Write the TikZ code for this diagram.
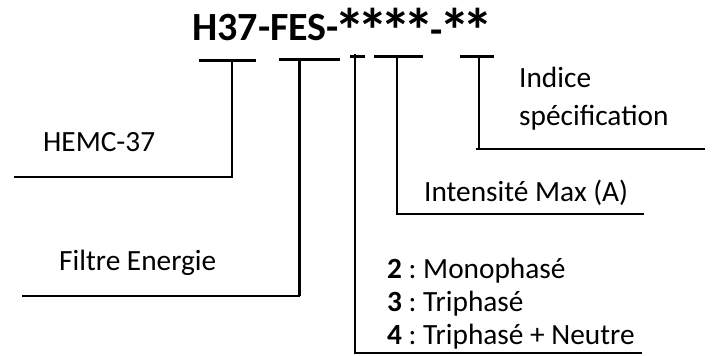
\documentclass[tikz,border=0pt]{standalone}
\usepackage{fontspec}
\setmainfont{Carlito}
\newcommand{\bigast}{\makebox[23pt]{\raisebox{-13pt}{\scalebox{1.55}{*}}}}
\begin{document}
\frenchspacing
\begin{tikzpicture}[x=1pt,y=-1pt,
  lbl/.style={anchor=base west,inner sep=0pt,font=\fontsize{29.33}{33}\selectfont},
  ttl/.style={anchor=base west,inner sep=0pt,font=\fontsize{40}{44}\selectfont\bfseries},
  bar/.style={line width=3pt},
  lead/.style={line width=2pt}]
\useasboundingbox (0,0) rectangle (713,356);
\node[ttl] (title) at (192,40) {H37-FES-\bigast\bigast\bigast\bigast\raisebox{-3pt}{-}\bigast\bigast};
\node[lbl] (indice) at (519,87) {Indice};
\node[lbl] (spec) at (519,125) {spécification};
\node[lbl] (hemc) at (43,151) {HEMC-37};
\node[lbl] (imax) at (424,201) {Intensité Max (A)};
\node[lbl] (filtre) at (59,270) {Filtre Energie};
\node[lbl] (mono) at (387,278) {\textbf{2} : Monophasé};
\node[lbl] (tri) at (387,311) {\textbf{3} : Triphasé};
\node[lbl] (neutre) at (387,344) {\textbf{4} : Triphasé + Neutre};
% HEMC-37
\coordinate (a1) at (199,60); \coordinate (a2) at (256,60);
\coordinate (a3) at (232,61); \coordinate (a4) at (232,177); \coordinate (a5) at (14,177);
\draw[bar] (a1) -- (a2);
\draw[lead] (a3) -- (a4) -- (a5);
% Filtre Energie
\coordinate (b1) at (279,59); \coordinate (b2) at (340,59);
\coordinate (b3) at (299.5,59); \coordinate (b4) at (299.5,296); \coordinate (b5) at (22,296);
\draw[bar] (b1) -- (b2);
\draw[line width=2.5pt] (b3) -- (b4);
\draw[lead] (b4) -- (b5);
% Phases
\coordinate (c1) at (350,56); \coordinate (c2) at (365,56);
\coordinate (c3) at (354.5,54); \coordinate (c4) at (354.5,353); \coordinate (c5) at (642,353);
\draw[bar] (c1) -- (c2);
\draw[lead] (c3) -- (c4) -- (c5);
% Intensite
\coordinate (d1) at (374,56); \coordinate (d2) at (423,56);
\coordinate (d3) at (397,55); \coordinate (d4) at (397,214); \coordinate (d5) at (644,214);
\draw[bar] (d1) -- (d2);
\draw[lead] (d3) -- (d4) -- (d5);
% Indice
\coordinate (e1) at (460,56); \coordinate (e2) at (494,56);
\coordinate (e3) at (478.5,56); \coordinate (e4) at (478.5,148); \coordinate (e5) at (476,149); \coordinate (e6) at (705,149);
\draw[bar] (e1) -- (e2);
\draw[lead] (e3) -- (e4);
\draw[lead] (e5) -- (e6);
\end{tikzpicture}
\end{document}
